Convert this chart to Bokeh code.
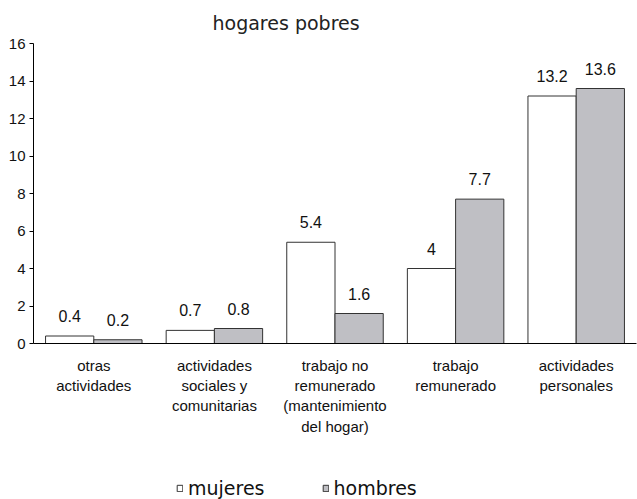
from bokeh.plotting import figure
from bokeh.models import (ColumnDataSource, FactorRange, Range1d, Legend, LegendItem,
                          FixedTicker)
from bokeh.layouts import column
from bokeh.transform import dodge
from bokeh.core.properties import value
from bokeh.embed import file_html
from bokeh.resources import INLINE

title_text = "hogares pobres"
categories = [
    "otras\nactividades",
    "actividades\nsociales y\ncomunitarias",
    "trabajo no\nremunerado\n(mantenimiento\ndel hogar)",
    "trabajo\nremunerado",
    "actividades\npersonales",
]
mujeres = [0.4, 0.7, 5.4, 4, 13.2]
hombres = [0.2, 0.8, 1.6, 7.7, 13.6]
series_names = ["mujeres", "hombres"]
y_ticks = [0, 2, 4, 6, 8, 10, 12, 14, 16]

NARROW = "Liberation Sans"
WIDE = "DejaVu Sans"
WHITE_FILL = "white"
GRAY_FILL = "#BFBFC4"
OUTLINE = "#333333"

source = ColumnDataSource(dict(
    cat=categories,
    mujeres=mujeres,
    hombres=hombres,
    lab_m=[f"{v:g}" for v in mujeres],
    lab_h=[f"{v:g}" for v in hombres],
))

# ---------------- main chart ----------------
p = figure(
    x_range=FactorRange(factors=categories, range_padding=0),
    y_range=Range1d(0, 16),
    width=637, height=470,
    output_backend="svg", toolbar_location=None,
    min_border_left=33, min_border_right=1, min_border_top=41, min_border_bottom=127,
)
p.outline_line_color = None
p.xgrid.visible = False
p.ygrid.visible = False
p.background_fill_color = "white"
p.border_fill_color = "white"

p.title.text = title_text
p.title.align = "left"
p.title.offset = 179
p.title.standoff = 19
p.title.text_font = WIDE
p.title.text_font_size = "19px"
p.title.text_font_style = "normal"
p.title.text_color = "#222222"

r_m = p.vbar(x=dodge("cat", -0.2, range=p.x_range), top="mujeres", width=0.4, bottom=0,
             source=source, fill_color=WHITE_FILL, line_color=OUTLINE, line_width=1)
r_h = p.vbar(x=dodge("cat", 0.2, range=p.x_range), top="hombres", width=0.4, bottom=0,
             source=source, fill_color=GRAY_FILL, line_color=OUTLINE, line_width=1)

for col, lab, off in (("mujeres", "lab_m", -0.2), ("hombres", "lab_h", 0.2)):
    p.text(x=dodge("cat", off, range=p.x_range), y=col, text=lab, source=source,
           text_align="center", text_baseline="alphabetic", y_offset=-20,
           text_font=value(NARROW), text_font_size="16px", text_color="#111111")

p.xaxis.major_tick_line_color = None
p.xaxis.minor_tick_line_color = None
p.xaxis.axis_line_color = "black"
p.xaxis.major_label_standoff = 7
p.xaxis.major_label_text_font = NARROW
p.xaxis.major_label_text_font_size = "15px"
p.xaxis.major_label_text_color = "#111111"

p.yaxis.ticker = FixedTicker(ticks=y_ticks)
p.yaxis.minor_tick_line_color = None
p.yaxis.major_tick_in = 0
p.yaxis.major_tick_out = 4
p.yaxis.major_tick_line_color = "black"
p.yaxis.axis_line_color = "black"
p.yaxis.major_label_standoff = 4
p.yaxis.major_label_text_font = NARROW
p.yaxis.major_label_text_font_size = "15px"
p.yaxis.major_label_text_color = "#111111"

# ---------------- legend strip ----------------
p2 = figure(
    width=637, height=29, x_range=Range1d(0, 1), y_range=Range1d(0, 1),
    output_backend="svg", toolbar_location=None,
    x_axis_location=None, y_axis_location=None,
    min_border_left=0, min_border_right=0, min_border_top=0, min_border_bottom=0,
)
p2.outline_line_color = None
p2.grid.visible = False
p2.border_fill_color = "white"
p2.background_fill_color = "white"
nan = float("nan")
k_m = p2.vbar(x=[nan], top=[nan], width=0.4, fill_color=WHITE_FILL, line_color=OUTLINE, line_width=1)
k_h = p2.vbar(x=[nan], top=[nan], width=0.4, fill_color=GRAY_FILL, line_color=OUTLINE, line_width=1)

legend = Legend(
    items=[LegendItem(label=series_names[0], renderers=[k_m]),
           LegendItem(label=series_names[1], renderers=[k_h])],
    orientation="horizontal", location=(143, 0),
    glyph_width=7, glyph_height=8, label_standoff=5, spacing=57,
    padding=0, margin=0, border_line_color=None, background_fill_alpha=0,
    label_text_font=WIDE, label_text_font_size="19px", label_text_color="#111111",
)
p2.add_layout(legend)

layout = column(p, p2, spacing=0)
open("out.html", "w").write(file_html(layout, INLINE))
